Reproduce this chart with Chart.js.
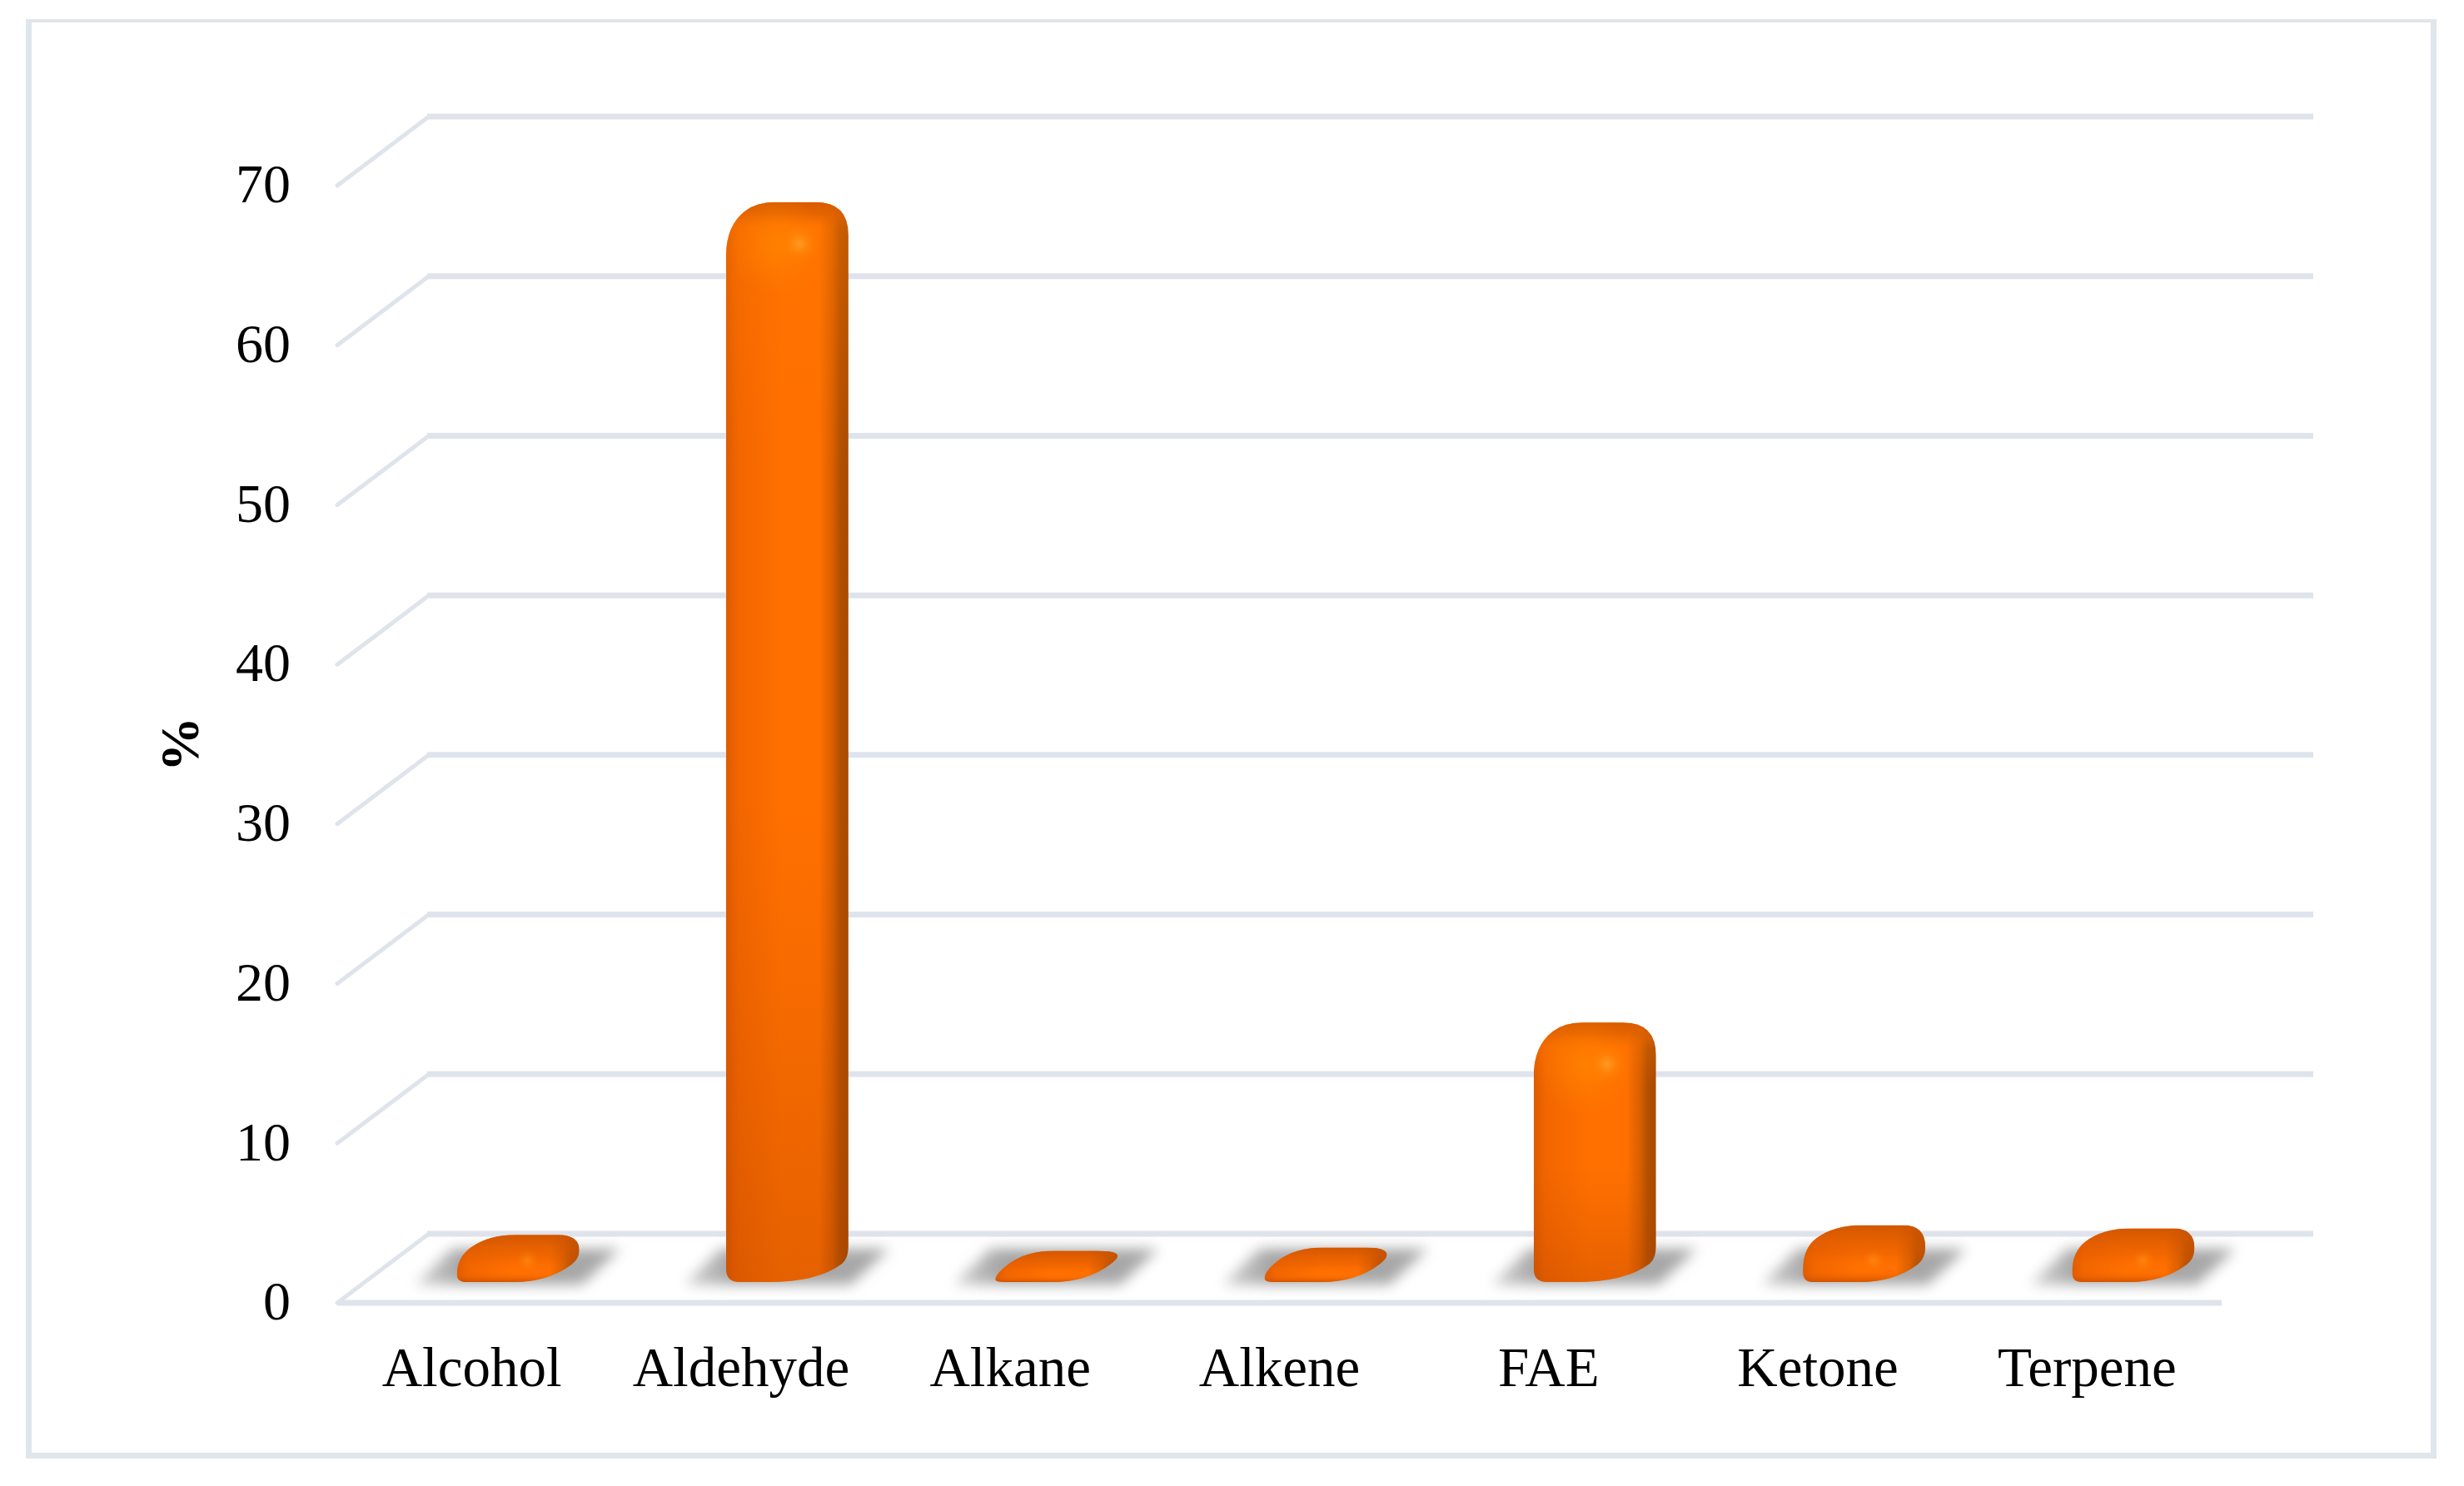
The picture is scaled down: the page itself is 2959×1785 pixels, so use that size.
<!DOCTYPE html>
<html>
<head>
<meta charset="utf-8">
<title>Chemical classes</title>
<style>
  html, body { margin: 0; background: #fff; }
  canvas { display: block; }
</style>
<script src="https://cdn.jsdelivr.net/npm/chart.js@4"></script>
</head>
<body>
<canvas id="chart" width="2959" height="1785"></canvas>
<script>
const categories = ["Alcohol", "Aldehyde", "Alkane", "Alkene", "FAE", "Ketone", "Terpene"];
const percentValues = [1.5, 66.2, 0.5, 0.7, 14.8, 2.1, 1.9];
const yMax = 70;
const yStep = 10;
const yTitle = "%";

const lineColor = "#dfe4ec";
const frameColor = "#dfe6ec";
const serif = "'Liberation Serif', 'Times New Roman', serif";

// oblique projection of the 3D box
const wallDx = 110, wallDy = 83;   // floor depth
const frontDx = 37, frontDy = 25;  // bar front face, from the axis line
const barDx = 37, barDy = 28;      // bar depth

function roundedPoly(ctx, pts, radii) {
    const n = pts.length;
    // each edge shares its length between the two corners on it
    const edge = pts.map((p, i) => {
        const q = pts[(i + 1) % n];
        const len = Math.hypot(q[0] - p[0], q[1] - p[1]) || 1;
        const k = Math.min(1, len / (radii[i] + radii[(i + 1) % n]));
        return { len, start: radii[i] * k, end: radii[(i + 1) % n] * k };
    });
    ctx.beginPath();
    pts.forEach((p, i) => {
        const prev = pts[(i + n - 1) % n], next = pts[(i + 1) % n];
        const e1 = edge[(i + n - 1) % n], e2 = edge[i];
        const ax = p[0] + (prev[0] - p[0]) * e1.end / e1.len, ay = p[1] + (prev[1] - p[1]) * e1.end / e1.len;
        const bx = p[0] + (next[0] - p[0]) * e2.start / e2.len, by = p[1] + (next[1] - p[1]) * e2.start / e2.len;
        if (i === 0) ctx.moveTo(ax, ay); else ctx.lineTo(ax, ay);
        ctx.quadraticCurveTo(p[0], p[1], bx, by);
    });
    ctx.closePath();
}

function drawFrame(ctx) {
    ctx.fillStyle = frameColor;
    ctx.fillRect(31, 23, 2895, 4);
    ctx.fillRect(31, 23, 7, 1729);
    ctx.fillRect(2919, 23, 7, 1729);
    ctx.fillRect(31, 1745, 2895, 7);
}

function drawWalls(chart) {
    const ctx = chart.ctx, y = chart.scales.y, area = chart.chartArea;
    ctx.save();
    ctx.strokeStyle = lineColor;
    y.ticks.forEach(t => {
        const py = y.getPixelForValue(t.value);
        ctx.lineCap = "round";
        ctx.lineWidth = 5;
        ctx.beginPath();
        ctx.moveTo(area.left, py);
        ctx.lineTo(area.left + wallDx, py - wallDy);
        ctx.stroke();
        ctx.lineCap = "butt";
        ctx.lineWidth = 7;
        ctx.beginPath();
        ctx.moveTo(area.left + wallDx - 2, py - wallDy);
        ctx.lineTo(area.right + wallDx, py - wallDy);
        ctx.stroke();
    });
    ctx.beginPath();
    ctx.moveTo(area.left, y.getPixelForValue(0));
    ctx.lineTo(area.right, y.getPixelForValue(0));
    ctx.stroke();
    ctx.restore();
}

function drawShadow(ctx, x0, yb) {
    ctx.save();
    ctx.filter = "blur(8px)";
    const g = ctx.createLinearGradient(x0 - 52, 0, x0 + 198, 0);
    g.addColorStop(0, "rgba(165,165,165,0.5)");
    g.addColorStop(0.25, "#a4a4a4");
    g.addColorStop(1, "#a8a8a8");
    ctx.fillStyle = g;
    ctx.beginPath();
    ctx.moveTo(x0 - 50, yb + 3);
    ctx.lineTo(x0 - 6, yb - 40);
    ctx.lineTo(x0 + 196, yb - 40);
    ctx.lineTo(x0 + 150, yb + 3);
    ctx.closePath();
    ctx.fill();
    ctx.restore();
}

function drawBar(ctx, el) {
    const w = el.width;
    const x0 = el.x - w / 2 + frontDx;
    const yb = el.base - frontDy;
    const yt = el.y - frontDy;
    const xr = x0 + w + barDx;
    const top = yt - barDy;
    const h = yb - yt;
    const tall = h > 60;

    const pts = [[x0, yb], [x0 + w, yb], [xr, yb - barDy], [xr, top], [x0 + barDx, top], [x0, yt]];
    ctx.save();
    if (tall) roundedPoly(ctx, pts, [16, 60, 16, 40, 22, 36]);
    else roundedPoly(ctx, pts, [12, 42, 14, 26, 34, 26]);
    ctx.clip();

    // body, left to right
    const body = ctx.createLinearGradient(x0, 0, xr, 0);
    body.addColorStop(0, "#de5b00");
    body.addColorStop(0.1, "#f26600");
    body.addColorStop(0.45, "#ff7000");
    body.addColorStop(0.76, "#ff7000");
    body.addColorStop(0.87, "#d85f00");
    body.addColorStop(0.93, "#b25000");
    body.addColorStop(1, "#a84a00");
    ctx.fillStyle = body;
    ctx.fillRect(x0, top, xr - x0, yb - top);

    if (tall) {
        // gets darker towards the floor
        const fade = ctx.createLinearGradient(0, top, 0, yb);
        fade.addColorStop(0, "rgba(255,125,0,0.35)");
        fade.addColorStop(0.25, "rgba(255,112,0,0)");
        fade.addColorStop(0.55, "rgba(190,70,0,0)");
        fade.addColorStop(1, "rgba(170,60,0,0.3)");
        ctx.fillStyle = fade;
        ctx.fillRect(x0, top, xr - x0, yb - top);

        // top face
        const cap = ctx.createLinearGradient(0, top, 0, top + 30);
        cap.addColorStop(0, "rgba(215,90,0,0.95)");
        cap.addColorStop(0.45, "rgba(220,95,0,0.75)");
        cap.addColorStop(1, "rgba(230,100,0,0)");
        ctx.fillStyle = cap;
        ctx.fillRect(x0, top, xr - x0, 30);

        // broad sheen under the lid, with a soft spot
        const sheen = ctx.createRadialGradient(x0 + 60, top + 52, 0, x0 + 60, top + 52, 60);
        sheen.addColorStop(0, "rgba(255,135,0,0.7)");
        sheen.addColorStop(1, "rgba(255,125,0,0)");
        ctx.fillStyle = sheen;
        ctx.fillRect(x0, top, xr - x0, 120);
        const spot = ctx.createRadialGradient(x0 + 88, top + 50, 0, x0 + 88, top + 50, 24);
        spot.addColorStop(0, "rgba(255,165,45,0.8)");
        spot.addColorStop(0.5, "rgba(255,145,20,0.35)");
        spot.addColorStop(1, "rgba(255,130,0,0)");
        ctx.fillStyle = spot;
        ctx.fillRect(x0 + 60, top + 22, 56, 56);
    } else {
        // flat bars: darker lid, bright lip
        const lid = ctx.createLinearGradient(0, top, 0, yb);
        lid.addColorStop(0, "rgba(205,85,0,0.9)");
        lid.addColorStop(0.5, "rgba(225,90,0,0.4)");
        lid.addColorStop(0.78, "rgba(255,110,0,0)");
        lid.addColorStop(1, "rgba(190,70,0,0.65)");
        ctx.fillStyle = lid;
        ctx.fillRect(x0, top, xr - x0, yb - top);

        if (h > 25) {
            const spot = ctx.createRadialGradient(x0 + 85, yb - 26, 0, x0 + 85, yb - 26, 14);
            spot.addColorStop(0, "rgba(255,150,30,0.55)");
            spot.addColorStop(1, "rgba(255,125,0,0)");
            ctx.fillStyle = spot;
            ctx.fillRect(x0 + 71, yb - 40, 28, 28);
        }
    }
    ctx.restore();
}

const bars3d = {
    id: "bars3d",
    beforeDatasetsDraw(chart) {
        const ctx = chart.ctx;
        drawFrame(ctx);
        drawWalls(chart);
        const bars = chart.getDatasetMeta(0).data;
        bars.forEach(el => drawShadow(ctx, el.x - el.width / 2 + frontDx, el.base - frontDy));
        bars.forEach(el => drawBar(ctx, el));
        return false;
    }
};

new Chart(document.getElementById("chart").getContext("2d"), {
    type: "bar",
    data: {
        labels: categories,
        datasets: [{
            label: yTitle,
            data: percentValues,
            backgroundColor: "#ff7000",
            categoryPercentage: 1,
            barPercentage: 0.34
        }]
    },
    options: {
        responsive: false,
        animation: false,
        layout: { padding: { left: 0, top: 223, right: 291, bottom: 0 } },
        plugins: { legend: { display: false }, tooltip: { enabled: false } },
        scales: {
            x: {
                afterFit(scale) { scale.height = 220; },
                grid: { display: false, drawTicks: false },
                border: { display: false },
                ticks: {
                    color: "#000",
                    maxRotation: 0,
                    autoSkip: false,
                    padding: 42,
                    font: { family: serif, size: 67 }
                }
            },
            y: {
                min: 0,
                max: yMax,
                afterFit(scale) { scale.width = 405; },
                grid: { display: false, drawTicks: false },
                border: { display: false },
                title: {
                    display: true,
                    text: yTitle,
                    color: "#000",
                    padding: { top: 181, bottom: 0 },
                    font: { family: serif, size: 66, weight: "bold" }
                },
                ticks: {
                    color: "#000",
                    stepSize: yStep,
                    padding: 56,
                    labelOffset: 3,
                    font: { family: serif, size: 66 }
                }
            }
        }
    },
    plugins: [bars3d]
});
</script>
</body>
</html>
